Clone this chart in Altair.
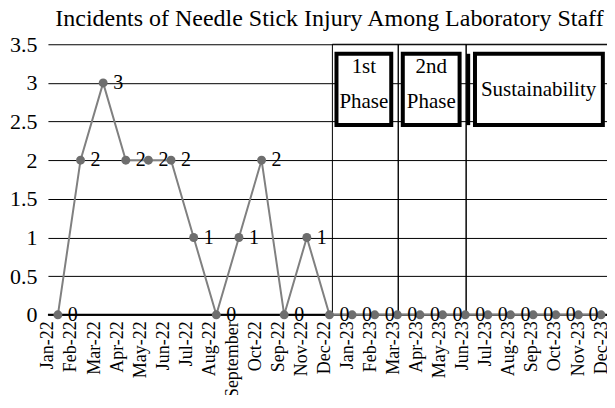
import altair as alt
import pandas as pd
import json

FONT = "Liberation Serif"

# ---- data ----
months = ["Jan-22", "Feb-22", "Mar-22", "Apr-22", "May-22", "Jun-22", "Jul-22",
          "Aug-22", "September", "Oct-22", "Sep-22", "Nov-22", "Dec-22",
          "Jan-23", "Feb-23", "Mar-23", "Apr-23", "May-23", "Jun-23",
          "Jul-23", "Aug-23", "Sep-23", "Oct-23", "Nov-23", "Dec-23"]
incidents = [0, 2, 3, 2, 2, 2, 1, 0, 1, 2, 0, 1, 0,
             0, 0, 0, 0, 0, 0, 0, 0, 0, 0, 0, 0]
month_index = [0, 1, 2, 3, 4, 5, 6, 7, 8, 9, 10, 11, 12,
               13, 14, 15, 16, 17, 18, 19, 20, 21, 22, 23, 24]

# phase regions (in month-index units)
region_start = [12.13, 15.04, 18.04]
region_end = [15.04, 18.04, 24.35]
region_bottom = [0, 0, 0]
region_top = [3.5, 3.5, 3.5]

# annotation boxes
box_x0 = [12.31, 15.24, 18.43]
box_x1 = [14.73, 17.75, 24.08]
box_y0 = [2.454, 2.454, 2.454]
box_y1 = [3.377, 3.377, 3.377]
extra_rule_x = [18.13]

box_text = ["1st", "Phase", "2nd", "Phase", "Sustainability"]
box_text_x = [13.52, 13.52, 16.5, 16.5, 21.24]
box_text_y = [3.20, 2.75, 3.20, 2.75, 2.906]

y_ticks = [0, 0.5, 1, 1.5, 2, 2.5, 3, 3.5]

df = pd.DataFrame({"idx": month_index, "month": months, "v": incidents})
regions = pd.DataFrame({"x0": region_start, "x1": region_end,
                        "y0": region_bottom, "y1": region_top})
boxes = pd.DataFrame({"x0": box_x0, "x1": box_x1, "y0": box_y0, "y1": box_y1})
rule_df = pd.DataFrame({"x": extra_rule_x, "y0": [box_y0[2]], "y1": [box_y1[2]]})
texts = pd.DataFrame({"t": box_text, "x": box_text_x, "y": box_text_y})
base_df = pd.DataFrame({"y": [0]})

xscale = alt.Scale(domain=[-0.44, 24.44], nice=False, zero=False)
yscale = alt.Scale(domain=[0, 3.5], nice=False, zero=True)

y_axis = alt.Axis(values=y_ticks, format="~g", grid=True, gridColor="black",
                  gridWidth=1, ticks=False, domain=False, labelFont=FONT,
                  labelFontSize=22, labelColor="black", labelPadding=11,
                  title=None)


def Y(field):
    return alt.Y(field, scale=yscale, axis=y_axis)


def X(field):
    return alt.X(field, scale=xscale, axis=None)


region_layer = alt.Chart(regions).mark_rect(
    fillOpacity=0, stroke="black", strokeWidth=1
).encode(x=X("x0:Q"), x2="x1:Q", y=Y("y0:Q"), y2="y1:Q")

baseline = alt.Chart(base_df).mark_rule(color="black", strokeWidth=2).encode(
    y=Y("y:Q")
)

line = alt.Chart(df).mark_line(color="#808080", strokeWidth=2).encode(
    x=X("idx:Q"), y=Y("v:Q")
)
points = alt.Chart(df).mark_circle(color="#6e6e6e", size=80, opacity=1).encode(
    x=X("idx:Q"), y=Y("v:Q")
)
labels = alt.Chart(df).mark_text(
    align="left", baseline="middle", dx=10, font=FONT, fontSize=20, color="black"
).encode(x=X("idx:Q"), y=Y("v:Q"), text="v:Q")

box_layer = alt.Chart(boxes).mark_rect(
    fill="white", stroke="black", strokeWidth=4
).encode(x=X("x0:Q"), x2="x1:Q", y=Y("y0:Q"), y2="y1:Q")

extra_rule = alt.Chart(rule_df).mark_rule(color="black", strokeWidth=4).encode(
    x=X("x:Q"), y=Y("y0:Q"), y2="y1:Q"
)
box_labels = alt.Chart(texts).mark_text(
    align="center", baseline="middle", font=FONT, fontSize=21, color="black"
).encode(x=X("x:Q"), y=Y("y:Q"), text="t:N")

main = alt.layer(region_layer, baseline, line, points, labels,
                 box_layer, extra_rule, box_labels)

# category tick labels on their own scale
label_expr = json.dumps(months) + "[round(datum.value)]"
label_axis = alt.Chart(df).mark_point(opacity=0).encode(
    x=alt.X("idx:Q",
            scale=alt.Scale(domain=[0, 24.43], nice=False, zero=False),
            axis=alt.Axis(values=month_index, labelExpr=label_expr,
                          labelAngle=270, ticks=False, domain=False, grid=False,
                          labelFont=FONT, labelFontSize=18, labelColor="black",
                          labelPadding=6, labelOverlap=False, labelBound=False,
                          labelFlush=False, title=None)),
    y=Y("v:Q"),
)

chart = alt.layer(main, label_axis).resolve_scale(x="independent").properties(
    width=564,
    height=271,
    padding={"left": 40, "top": 36, "right": -4, "bottom": 80},
    autosize=alt.AutoSizeParams(type="none"),
    background="white",
    title=alt.TitleParams(
        "Incidents of Needle Stick Injury Among Laboratory Staff",
        font=FONT, fontSize=24, fontWeight="normal", color="black",
        anchor="middle", offset=13, dy=11,
    ),
).configure_view(stroke="transparent")

chart.save("out.html", embed_options={"renderer": "svg", "actions": False})
